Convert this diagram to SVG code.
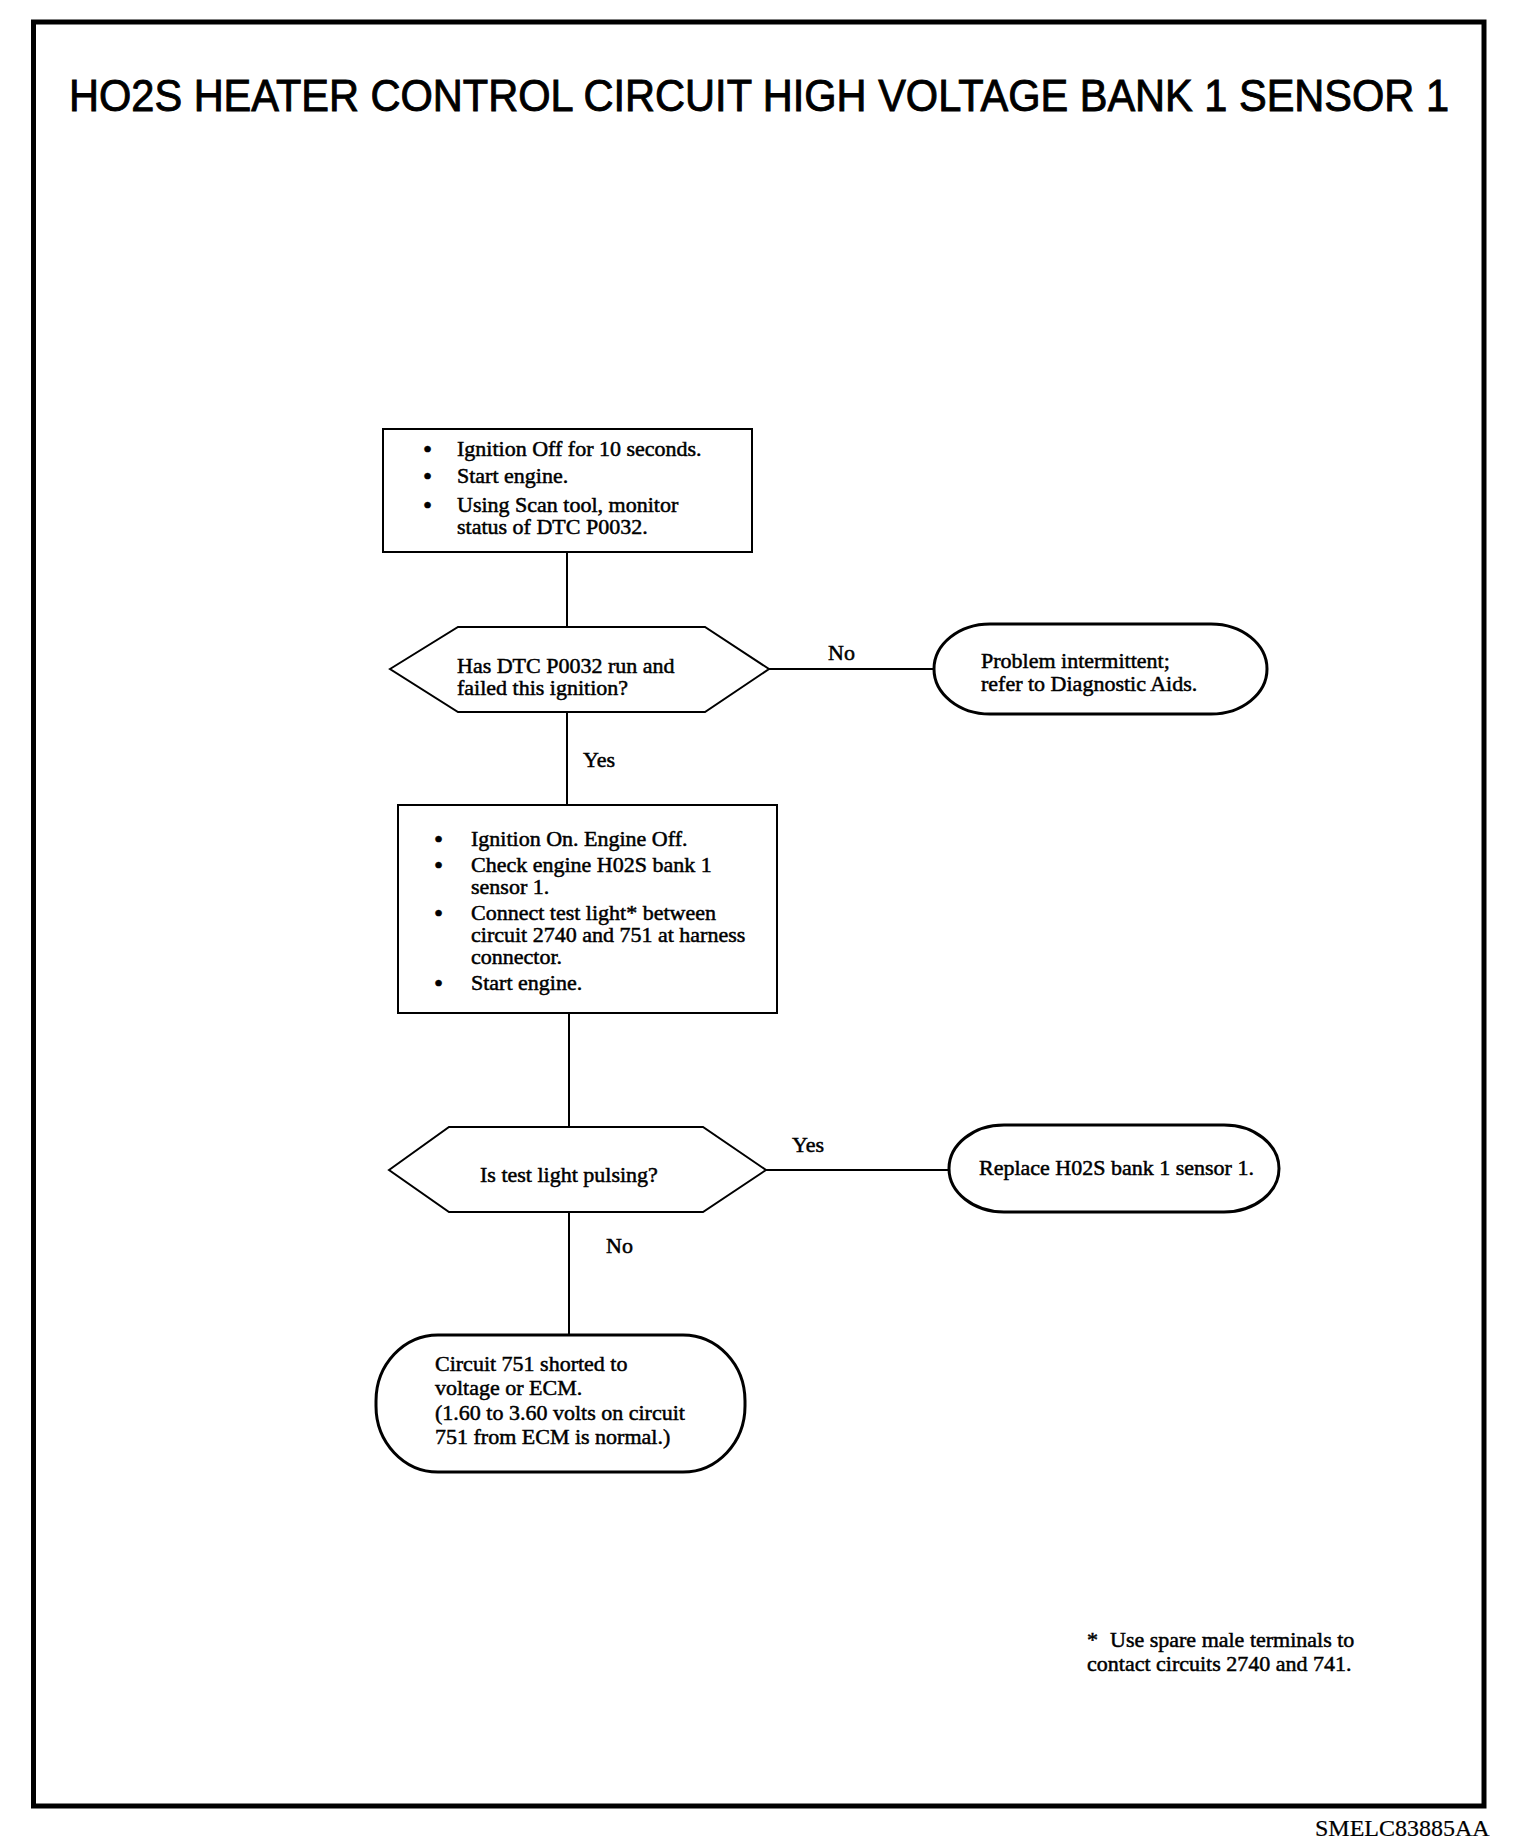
<svg xmlns="http://www.w3.org/2000/svg" width="1536" height="1842" viewBox="0 0 1536 1842">
<style>
.t{font-family:"Liberation Serif","Times New Roman",serif;font-size:22px;fill:#000;stroke:#000;stroke-width:0.5}
.b{font-family:"Liberation Serif","Times New Roman",serif;font-size:26px;fill:#000;stroke:#000;stroke-width:0.5}
.title{font-family:"Liberation Sans",Arial,sans-serif;font-size:44px;fill:#000;stroke:#000;stroke-width:0.9}
.box{fill:#fff;stroke:#000;stroke-width:2}
.oval{fill:#fff;stroke:#000;stroke-width:3}
.ln{stroke:#000;stroke-width:2;fill:none}
</style>
<rect width="1536" height="1842" fill="#fff"/>
<rect x="33.5" y="22" width="1450.5" height="1784" fill="none" stroke="#000" stroke-width="5"/>
<text class="title" x="69" y="111" textLength="1380" lengthAdjust="spacingAndGlyphs">HO2S HEATER CONTROL CIRCUIT HIGH VOLTAGE BANK 1 SENSOR 1</text>

<g id="connectors">
<line class="ln" x1="567" y1="552" x2="567" y2="627"/>
<line class="ln" x1="769" y1="669" x2="934" y2="669"/>
<line class="ln" x1="567" y1="712" x2="567" y2="805"/>
<line class="ln" x1="569" y1="1013" x2="569" y2="1127"/>
<line class="ln" x1="766" y1="1170" x2="949" y2="1170"/>
<line class="ln" x1="569" y1="1212" x2="569" y2="1335"/>
<text class="t" x="828" y="660">No</text>
<text class="t" x="583" y="767">Yes</text>
<text class="t" x="792" y="1152">Yes</text>
<text class="t" x="606" y="1253">No</text>
</g>

<g id="step1">
<rect class="box" x="383" y="429" width="369" height="123"/>
<g class="t">
<text class="b" x="423" y="458">•</text><text x="457" y="456">Ignition Off for 10 seconds.</text>
<text class="b" x="423" y="485">•</text><text x="457" y="483">Start engine.</text>
<text class="b" x="423" y="514">•</text><text x="457" y="512">Using Scan tool, monitor</text>
<text x="457" y="534">status of DTC P0032.</text>
</g>
</g>

<g id="decision1">
<polygon class="box" points="390,669 458,627 705,627 769,669 705,712 458,712"/>
<text class="t" x="457" y="673">Has DTC P0032 run and</text>
<text class="t" x="457" y="695">failed this ignition?</text>
</g>

<g id="result1">
<rect class="oval" x="934" y="624" width="333" height="90" rx="56" ry="45"/>
<text class="t" x="981" y="668">Problem intermittent;</text>
<text class="t" x="981" y="691">refer to Diagnostic Aids.</text>
</g>

<g id="step2">
<rect class="box" x="398" y="805" width="379" height="208"/>
<g class="t">
<text class="b" x="434" y="848">•</text><text x="471" y="846">Ignition On. Engine Off.</text>
<text class="b" x="434" y="874">•</text><text x="471" y="872">Check engine H02S bank 1</text>
<text x="471" y="894">sensor 1.</text>
<text class="b" x="434" y="922">•</text><text x="471" y="920">Connect test light* between</text>
<text x="471" y="942">circuit 2740 and 751 at harness</text>
<text x="471" y="964">connector.</text>
<text class="b" x="434" y="992">•</text><text x="471" y="990">Start engine.</text>
</g>
</g>

<g id="decision2">
<polygon class="box" points="389,1170 449,1127 703,1127 766,1170 703,1212 449,1212"/>
<text class="t" x="480" y="1182">Is test light pulsing?</text>
</g>

<g id="result2">
<rect class="oval" x="949" y="1125" width="330" height="87" rx="55" ry="43.5"/>
<text class="t" x="979" y="1175">Replace H02S bank 1 sensor 1.</text>
</g>

<g id="result3">
<rect class="oval" x="376" y="1335" width="369" height="137" rx="62" ry="66"/>
<g class="t">
<text x="435" y="1371">Circuit 751 shorted to</text>
<text x="435" y="1395">voltage or ECM.</text>
<text x="435" y="1420">(1.60 to 3.60 volts on circuit</text>
<text x="435" y="1444">751 from ECM is normal.)</text>
</g>
</g>

<g id="footnote">
<text class="t" x="1087" y="1647">*</text><text class="t" x="1110" y="1647">Use spare male terminals to</text>
<text class="t" x="1087" y="1671">contact circuits 2740 and 741.</text>
</g>
<text class="t" x="1315" y="1836" style="font-size:24px;stroke-width:0.2">SMELC83885AA</text>
</svg>
